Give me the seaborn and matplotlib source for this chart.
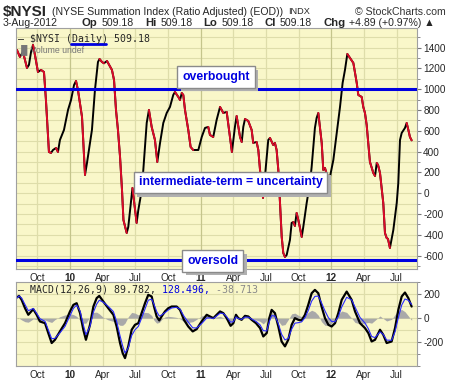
import numpy as np
import matplotlib
matplotlib.use("Agg")
import matplotlib.pyplot as plt
import matplotlib.patheffects as pe
import seaborn as sns

# NYSI daily (fractional year, value)
nysi_t = [2009.594, 2009.617, 2009.640, 2009.671, 2009.686, 2009.702, 2009.717, 2009.732,
          2009.755, 2009.778, 2009.801, 2009.816, 2009.839, 2009.855, 2009.870, 2009.893,
          2009.908, 2009.923, 2009.954, 2009.985, 2010.008, 2010.031, 2010.046, 2010.061,
          2010.092, 2010.115, 2010.130, 2010.168, 2010.191, 2010.214, 2010.226, 2010.245,
          2010.260, 2010.283, 2010.321, 2010.337, 2010.352, 2010.367, 2010.383, 2010.398,
          2010.409, 2010.434, 2010.446, 2010.478, 2010.510, 2010.523, 2010.549, 2010.561,
          2010.587, 2010.604, 2010.625, 2010.650, 2010.668, 2010.689, 2010.714, 2010.740,
          2010.765, 2010.790, 2010.803, 2010.829, 2010.842, 2010.855, 2010.867, 2010.880,
          2010.905, 2010.923, 2010.943, 2010.982, 2011.008, 2011.033, 2011.058, 2011.071,
          2011.096, 2011.122, 2011.148, 2011.173, 2011.199, 2011.224, 2011.239, 2011.262,
          2011.275, 2011.301, 2011.314, 2011.326, 2011.339, 2011.364, 2011.390, 2011.402,
          2011.428, 2011.441, 2011.454, 2011.477, 2011.517, 2011.530, 2011.555, 2011.568,
          2011.581, 2011.594, 2011.607, 2011.620, 2011.632, 2011.645, 2011.658, 2011.683,
          2011.696, 2011.709, 2011.721, 2011.734, 2011.747, 2011.760, 2011.773, 2011.785,
          2011.811, 2011.836, 2011.849, 2011.874, 2011.887, 2011.900, 2011.926, 2011.938,
          2011.951, 2011.966, 2011.989, 2012.015, 2012.041, 2012.066, 2012.086, 2012.104,
          2012.122, 2012.142, 2012.168, 2012.181, 2012.194, 2012.206, 2012.232, 2012.244,
          2012.257, 2012.270, 2012.282, 2012.295, 2012.321, 2012.334, 2012.347, 2012.357,
          2012.372, 2012.397, 2012.410, 2012.423, 2012.433, 2012.448, 2012.474, 2012.500,
          2012.512, 2012.525, 2012.538, 2012.563, 2012.576, 2012.589, 2012.601, 2012.614]
nysi_v = [1378, 1311, 1359, 1205, 1234, 1359, 1426, 1330,
          1166, 1186, 1166, 897, 397, 388, 416, 436,
          397, 512, 609, 801, 897, 1041, 1080, 993,
          734, 176, 291, 609, 993, 1262, 1291, 1262,
          1250, 1272, 1186, 1089, 801, 609, 349, 31,
          -257, -382, -324, 51, -285, -160, 31, 224,
          676, 801, 638, 513, 301, 484, 676, 772,
          830, 945, 974, 926, 897, 964, 945, 801,
          609, 445, 416, 416, 541, 628, 638, 561,
          541, 705, 830, 772, 782, 541, 397, 638,
          743, 541, 493, 638, 714, 695, 609, 484,
          493, 416, 224, -45, 512, 532, 464, 484,
          416, 224, -93, -420, -574, -612, -593, -449,
          -285, -276, -314, -189, -257, -334, -420, -324,
          -93, 99, 253, 628, 724, 772, 484, 224,
          243, 176, 157, 320, 580, 830, 1061, 1186,
          1339, 1301, 1253, 1157, 1061, 945, 926, 830,
          772, 657, 484, 301, 195, 166, 291, 272,
          195, -93, -382, -430, -439, -526, -353, -93,
          99, 512, 580, 628, 676, 609, 541, 509]

# MACD(12,26,9) line and histogram
macd_t = [2009.597, 2009.610, 2009.630, 2009.656, 2009.681, 2009.719, 2009.745, 2009.770,
          2009.809, 2009.834, 2009.860, 2009.885, 2009.923, 2009.962, 2010.000, 2010.026,
          2010.051, 2010.077, 2010.102, 2010.122, 2010.153, 2010.179, 2010.204, 2010.224,
          2010.255, 2010.293, 2010.332, 2010.357, 2010.383, 2010.403, 2010.421, 2010.446,
          2010.472, 2010.497, 2010.523, 2010.548, 2010.574, 2010.599, 2010.625, 2010.643,
          2010.663, 2010.683, 2010.701, 2010.727, 2010.752, 2010.778, 2010.816, 2010.842,
          2010.872, 2010.905, 2010.939, 2010.969, 2011.007, 2011.046, 2011.071, 2011.097,
          2011.122, 2011.148, 2011.173, 2011.199, 2011.229, 2011.250, 2011.270, 2011.288,
          2011.313, 2011.339, 2011.364, 2011.390, 2011.423, 2011.454, 2011.479, 2011.505,
          2011.525, 2011.543, 2011.568, 2011.594, 2011.619, 2011.645, 2011.670, 2011.696,
          2011.721, 2011.747, 2011.772, 2011.798, 2011.823, 2011.849, 2011.874, 2011.900,
          2011.925, 2011.951, 2011.977, 2012.002, 2012.028, 2012.053, 2012.079, 2012.117,
          2012.155, 2012.181, 2012.219, 2012.257, 2012.283, 2012.308, 2012.334, 2012.372,
          2012.397, 2012.423, 2012.461, 2012.487, 2012.512, 2012.538, 2012.563, 2012.589,
          2012.614]
macd_v = [175, 186, 153, 83, 28, 75, 28, -28, -42, -125, -208, -181, -111, -42, 56, 111,
          125, 42, -97, -181, -56, 97, 167, 186, 139, 83, 28, -70, -208, -292, -334, -236,
          -97, -56, -42, 42, 125, 195, 181, 97, 14, -19, 14, 56, 83, 97, 97, 69,
          -14, -70, -111, -92, -28, 28, 14, 0, 28, 56, 42, 0, -64, -42, 28, 0,
          -14, 19, 14, -14, -42, -83, -153, -125, 0, 69, 42, -70, -195, -236, -181, -56,
          0, -14, -19, 28, 111, 208, 236, 208, 97, 0, -56, -70, -42, 42, 153, 222,
          153, 56, -42, -83, -125, -195, -181, -97, -139, -208, -195, -83, 69, 181, 214, 167,
          97]
hist_v = [6, 0, -15, -30, -34, -6, -12, -24, -15, -27, -36, -12, 12, 27, 36, 30,
          15, -18, -42, -42, 12, 48, 50, 36, 6, -15, -27, -42, -60, -60, -42, 12,
          48, 42, 27, 42, 48, 45, 22, -18, -42, -36, -12, 10, 15, 12, 6, -6,
          -30, -36, -30, -10, 18, 27, 12, 3, 10, 15, 3, -12, -30, -12, 18, 3,
          -3, 10, 6, -6, -15, -27, -48, -18, 30, 48, 24, -24, -60, -54, -12, 36,
          42, 24, 12, 24, 48, 66, 54, 24, -30, -60, -60, -42, -12, 30, 60, 48,
          0, -36, -48, -42, -36, -42, -18, 18, -3, -24, -10, 30, 66, 72, 54, 18,
          -18]

overbought = 1000
oversold = -640

main_ticks = [1400, 1200, 1000, 800, 600, 400, 200, 0, -200, -400, -600]
macd_ticks = [200, 0, -200]
quarter_pos = [2009.75, 2010.0, 2010.25, 2010.5, 2010.75, 2011.0,
               2011.25, 2011.5, 2011.75, 2012.0, 2012.25, 2012.5]
quarter_lbl = ["Oct", "10", "Apr", "Jul", "Oct", "11", "Apr", "Jul", "Oct", "12", "Apr", "Jul"]

sns.set_style("white")
plt.rcParams["font.family"] = ["Liberation Sans", "DejaVu Sans"]

BG = "#f9f7c9"
GRID = "#deddaa"
YEAR = "#c5c58c"
BLUE = "#0000e0"
RED = "#dc0a28"
MONO = "DejaVu Sans Mono"

fig = plt.figure(figsize=(4.6, 3.83), dpi=100)
ax = fig.add_axes([0.0348, 0.2977, 0.8717, 0.6292])
ax2 = fig.add_axes([0.0348, 0.0444, 0.8717, 0.2193])
xlim = (2009.587, 2012.655)


def style_panel(a, ticks, minor, ylim):
    a.set_facecolor(BG)
    a.set_xlim(*xlim)
    a.set_ylim(*ylim)
    for y in minor:
        a.axhline(y, color=GRID, lw=0.8, zorder=0)
    for p, l in zip(quarter_pos, quarter_lbl):
        a.axvline(p, color=YEAR if l.isdigit() else GRID, lw=0.9, zorder=0)
    a.yaxis.tick_right()
    a.set_yticks(ticks)
    a.set_yticklabels([str(t) for t in ticks], fontsize=7.2)
    a.set_yticks(minor, minor=True)
    a.tick_params(axis="y", which="major", length=3, color="#777", pad=1.5)
    a.tick_params(axis="y", which="minor", length=2, color="#777")
    a.set_xticks(quarter_pos)
    a.set_xticklabels(quarter_lbl, fontsize=7.2)
    for lab in a.get_xticklabels():
        if lab.get_text().isdigit():
            lab.set_fontweight("bold")
    a.tick_params(axis="x", length=0, pad=3)
    for s in a.spines.values():
        s.set_color("#a0a0a0")
        s.set_linewidth(0.8)


style_panel(ax, main_ticks, list(range(-700, 1600, 100)), (-728, 1589))
style_panel(ax2, macd_ticks, list(range(-400, 301, 100)), (-397, 302))

# main series: black when rising, red when falling
t = np.array(nysi_t)
v = np.array(nysi_v)
sns.lineplot(x=t, y=v, ax=ax, color="black", lw=1.4, sort=False, estimator=None)
down = np.diff(v) < 0
i = 0
while i < len(down):
    if down[i]:
        j = i
        while j < len(down) and down[j]:
            j += 1
        ax.plot(t[i:j + 1], v[i:j + 1], color=RED, lw=1.4)
        i = j
    else:
        i += 1
ax.set_xlabel("")
ax.set_ylabel("")

ax.axhline(overbought, color=BLUE, lw=2.2, zorder=3)
ax.axhline(oversold, color=BLUE, lw=2.2, zorder=3)

# annotation boxes with a drop shadow
for txt, xf, yf in [("overbought", 0.499, 0.797),
                    ("intermediate-term = uncertainty", 0.535, 0.359),
                    ("oversold", 0.491, 0.033)]:
    tb = ax.text(xf, yf, txt, transform=ax.transAxes, ha="center", va="center",
                 fontsize=8.8, fontweight="bold", color=BLUE, zorder=5,
                 bbox=dict(boxstyle="square,pad=0.4", fc="white", ec="#8a8a8a", lw=1))
    tb.get_bbox_patch().set_path_effects(
        [pe.SimplePatchShadow(offset=(2.5, -2.5), shadow_rgbFace="#b0b0b0", alpha=1),
         pe.Normal()])

# legend texts in main panel
ax.text(0.006, 0.975, "\u2014 $NYSI (Daily) 509.18", transform=ax.transAxes,
        fontsize=7.1, family=MONO, va="top", ha="left")
ax.text(0.006, 0.933, "\u2590\u258cVolume undef", transform=ax.transAxes,
        fontsize=6.3, color="#777777", va="top", ha="left")
ax.plot([0.138, 0.225], [0.932, 0.932], transform=ax.transAxes, color=BLUE, lw=2)

# MACD panel
mt = np.array(macd_t)
mv = np.array(macd_v)
hv = np.array(hist_v)
ax2.fill_between(mt, 0, hv, color="#a9a9a9", lw=0, zorder=1)
sns.lineplot(x=mt, y=mv, ax=ax2, color="black", lw=1.6, sort=False, estimator=None, zorder=2)
sns.lineplot(x=mt, y=mv - hv, ax=ax2, color="#2a2aff", lw=0.8, sort=False, estimator=None,
             zorder=3)
ax2.set_xlabel("")
ax2.set_ylabel("")

t1 = ax2.text(0.006, 0.97, "\u2014 MACD(12,26,9) 89.782,", transform=ax2.transAxes,
              fontsize=7.1, family=MONO, va="top", ha="left")
t2 = ax2.annotate(" 128.496,", xy=(1, 0), xycoords=t1, va="bottom", ha="left",
                  fontsize=7.1, family=MONO, color=BLUE)
ax2.annotate(" -38.713", xy=(1, 0), xycoords=t2, va="bottom", ha="left",
             fontsize=7.1, family=MONO, color="#888888")

# header
fig.text(3 / 460, 1 - 12 / 383, "$NYSI", fontsize=11, fontweight="bold", va="center")
fig.text(52 / 460, 1 - 12 / 383, "(NYSE Summation Index (Ratio Adjusted) (EOD))",
         fontsize=7.6, va="center")
fig.text(288 / 460, 1 - 12 / 383, "INDX", fontsize=6.6, va="center")
fig.text(446 / 460, 1 - 12 / 383, "\u00a9 StockCharts.com", fontsize=7.6, va="center",
         ha="right", color="#333333")
fig.text(3 / 460, 1 - 23 / 383, "3-Aug-2012", fontsize=7.6, va="center")

parts = [("Op", True), ("509.18", False), ("Hi", True), ("509.18", False),
         ("Lo", True), ("509.18", False), ("Cl", True), ("509.18", False),
         ("Chg", True), ("+4.89 (+0.97%) \u25b2", False)]
renderer = fig.canvas.get_renderer()
x0 = 82
for k, (s, b) in enumerate(parts):
    tt = fig.text(x0 / 460, 1 - 23 / 383, s, fontsize=8.2 if b else 7.6,
                  fontweight="bold" if b else "normal", va="center")
    w = tt.get_window_extent(renderer=renderer).width
    x0 += w + (4 if b else 11)

fig.savefig("out.png", dpi=100, facecolor="white")
